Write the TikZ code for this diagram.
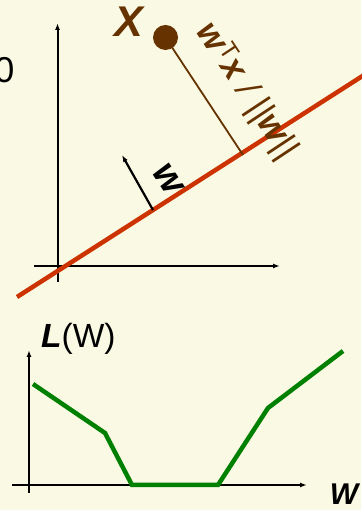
\documentclass[tikz,border=0pt]{standalone}
\usepackage{fontspec}
\setmainfont{Liberation Sans}
\usepackage{xcolor}
\usetikzlibrary{arrows.meta, positioning}
\definecolor{hp-bg}{RGB}{250,250,228}
\definecolor{hp-brown}{RGB}{102,51,0}
\definecolor{hp-red}{RGB}{204,51,0}
\definecolor{hp-green}{RGB}{0,128,0}
\tikzset{
  hp@axis/.style={-{Latex[length=7pt,width=5pt]}, line width=2pt, black},
  hp@plane/.style={line width=4.5pt, hp-red},
  hp@proj/.style={line width=1.8pt, hp-brown},
  hp@loss/.style={line width=4.5pt, hp-green, line join=miter},
  hp@lbl/.style={font=\fontsize{30}{32}\selectfont, inner sep=0pt},
  hp@bi/.style={font=\fontsize{30}{32}\selectfont\bfseries\itshape, inner sep=0pt},
}

\begin{document}
\begin{tikzpicture}[x=1pt, y=1pt]
  \fill[hp-bg] (0,0) rectangle (361,510);
  \useasboundingbox (0,0) rectangle (361,510);
  % upper panel: separating line and point
  \coordinate (ytop) at (57.5,487);
  \coordinate (ybot) at (57.5,228);
  \coordinate (xl)   at (34,244);
  \coordinate (xr)   at (280,244);
  \coordinate (pa)   at (17,213);
  \coordinate (pb)   at (375,442);
  \coordinate (foot) at (243,355);
  \coordinate (wbase) at (153,300);
  \coordinate (wtip)  at (122,355);
  \draw[hp@axis] (ybot) -- (ytop);
  \draw[hp@axis] (xl) -- (xr);
  \draw[hp@plane] (pa) -- (pb);
  \node[circle, fill=hp-brown, minimum size=25pt, inner sep=0pt] (pt) at (165.5,472.5) {};
  \draw[hp@proj] (pt.center) -- (foot);
  \draw[hp@axis, line width=2.2pt] (wbase) -- (wtip);
  \node[hp@bi, hp-brown, font=\fontsize{43}{45}\selectfont\bfseries\itshape, anchor=base] (xlab) at (129,473) {X};
  \node[hp@bi, rotate=-56.5, font=\fontsize{38}{40}\selectfont\bfseries\itshape] (wlab) at (168,331) {w};
  \node[hp@lbl, hp-brown, rotate=-56.5, font=\fontsize{35}{37}\selectfont\itshape] (dist) at (246,419)
    {\textbf{w}\textsuperscript{\upshape T}\textbf{x} / ||\textbf{w}||};
  \node[hp@lbl, font=\fontsize{36}{38}\selectfont, anchor=base east] (zero) at (14.5,427) {0};
  % lower panel: loss curve
  \coordinate (by1) at (29,17);
  \coordinate (by2) at (29,160);
  \coordinate (bx1) at (12,25);
  \coordinate (bx2) at (307,25);
  \draw[hp@axis, line width=1.5pt] (by1) -- (by2);
  \draw[hp@axis, line width=1.5pt] (bx1) -- (bx2);
  \draw[hp@loss] (33,126) -- (105,77) -- (132,25) -- (218,25) -- (268,102) -- (343,159);
  \node[hp@lbl, font=\fontsize{33.5}{35}\selectfont, anchor=base west] (loss) at (41,162) {\textbf{\textit{L}}(W)};
  \node[hp@bi, anchor=base] (wax) at (344,5.5) {W};
\end{tikzpicture}
\end{document}
